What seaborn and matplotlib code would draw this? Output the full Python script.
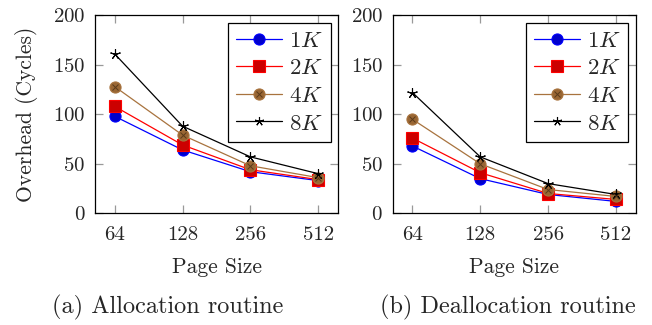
import matplotlib
matplotlib.use("Agg")
import matplotlib.pyplot as plt
from matplotlib.lines import Line2D
import pandas as pd
import seaborn as sns

page_sizes = ["64", "128", "256", "512"]
block_sizes = ["1K", "2K", "4K", "8K"]

alloc_1k = [98, 64, 42, 33]
alloc_2k = [108, 69, 44, 34]
alloc_4k = [128, 79, 48, 36]
alloc_8k = [161, 88, 57, 40]

dealloc_1k = [68, 35, 19, 12]
dealloc_2k = [76, 41, 20, 14]
dealloc_4k = [95, 50, 24, 17]
dealloc_8k = [122, 57, 30, 19]

sns.set_style("ticks")
plt.rcParams["font.family"] = ["cmr10", "DejaVu Serif"]
plt.rcParams["mathtext.fontset"] = "cm"
plt.rcParams["axes.formatter.use_mathtext"] = True

# pgfplots-like styling: line colour, marker fill, marker shape
styles = {
    "1K": dict(color="#0000ff", mfc="#0000cc", marker="o"),
    "2K": dict(color="#ff0000", mfc="#cc0000", marker="s"),
    "4K": dict(color="#a8733e", mfc="#996633", marker="o"),
    "8K": dict(color="black", mfc="black", marker=(5, 2, 0)),
}
marker_size = {"1K": 8, "2K": 8, "4K": 8, "8K": 7.5}


def make_df(series):
    rows = []
    for name, vals in zip(block_sizes, series):
        for i, (p, v) in enumerate(zip(page_sizes, vals)):
            rows.append({"pos": i, "page": p, "size": name, "val": v})
    return pd.DataFrame(rows)


def draw(ax, df):
    for name in block_sizes:
        st = styles[name]
        sub = df[df["size"] == name]
        sns.lineplot(data=sub, x="pos", y="val", ax=ax, color=st["color"],
                     lw=0.9, marker=st["marker"], markersize=marker_size[name],
                     markerfacecolor=st["mfc"], markeredgecolor=st["color"],
                     markeredgewidth=0.8, legend=False, zorder=3)
        if name == "4K":
            ax.plot(sub["pos"], sub["val"], ls="none", marker="x",
                    markersize=5, markeredgewidth=0.7, color="#5a3a1a", zorder=4)
    ax.set_xlim(-0.29, 3.29)
    ax.set_ylim(0, 200)
    ax.set_xticks(range(len(page_sizes)))
    ax.set_xticklabels(page_sizes)
    ax.set_yticks([0, 50, 100, 150, 200])
    ax.tick_params(direction="in", top=True, right=True, length=5.5, width=0.9,
                   color="#999999", labelsize=15)
    ax.tick_params(axis="x", pad=9)
    ax.tick_params(axis="y", pad=7)
    for sp in ax.spines.values():
        sp.set_visible(True)
        sp.set_color("black")
        sp.set_linewidth(0.9)
    ax.set_xlabel("Page Size", fontsize=15.5, labelpad=10)
    ax.set_ylabel("")

    handles = []
    for name in block_sizes:
        st = styles[name]
        h = Line2D([], [], color=st["color"], lw=0.9, marker=st["marker"],
                   markersize=marker_size[name] - (1 if name == "8K" else 0),
                   markerfacecolor=st["mfc"],
                   markeredgecolor=st["color"], markeredgewidth=0.8)
        if name == "4K":
            hx = Line2D([], [], ls="none", marker="x", markersize=5,
                        markeredgewidth=0.7, color="#5a3a1a")
            h = (h, hx)
        handles.append(h)
    labels = ["$" + n[0] + "K$" for n in block_sizes]
    leg = ax.legend(handles, labels, loc="upper right",
                    bbox_to_anchor=(0.970, 0.963), borderaxespad=0,
                    fontsize=16.5, handlelength=2.0, handletextpad=0.3,
                    labelspacing=0.33, borderpad=0.35, fancybox=False,
                    framealpha=1, edgecolor="black")
    leg.get_frame().set_linewidth(0.9)


fig = plt.figure(figsize=(6.52, 3.25), dpi=100)
ax1 = fig.add_axes([95 / 652, 1 - 213.3 / 325, 243 / 652, 198 / 325])
ax2 = fig.add_axes([392.7 / 652, 1 - 213.3 / 325, 243 / 652, 198 / 325])

draw(ax1, make_df([alloc_1k, alloc_2k, alloc_4k, alloc_8k]))
draw(ax2, make_df([dealloc_1k, dealloc_2k, dealloc_4k, dealloc_8k]))
ax1.set_ylabel("Overhead (Cycles)", fontsize=15.5, labelpad=11)

fig.text(168 / 652, 1 - 307 / 325, "(a) Allocation routine", fontsize=17.5,
         ha="center", va="center")
fig.text(508 / 652, 1 - 307 / 325, "(b) Deallocation routine", fontsize=17.5,
         ha="center", va="center")

fig.savefig("out.png", dpi=100)
